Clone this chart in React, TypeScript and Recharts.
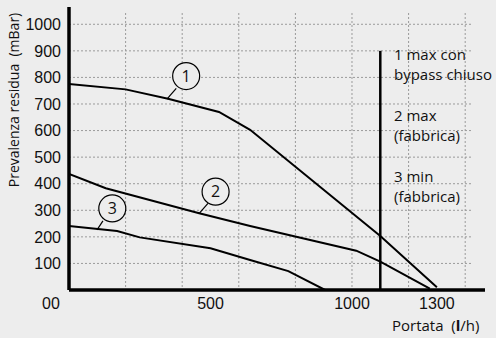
import React from "react";
import {
  LineChart,
  Line,
  XAxis,
  YAxis,
  CartesianGrid,
  ReferenceLine,
  ReferenceDot,
} from "recharts";

// curve 1: max con bypass chiuso
const curve1 = [
  { x: 0, y: 775 },
  { x: 200, y: 755 },
  { x: 350, y: 720 },
  { x: 530, y: 670 },
  { x: 640, y: 603 },
  { x: 1100, y: 203 },
  { x: 1300, y: 10 },
];

// curve 2: max (fabbrica)
const curve2 = [
  { x: 0, y: 437 },
  { x: 130, y: 383 },
  { x: 460, y: 289 },
  { x: 640, y: 241 },
  { x: 1015, y: 148 },
  { x: 1100, y: 107 },
  { x: 1275, y: 5 },
];

// curve 3: min (fabbrica)
const curve3 = [
  { x: 0, y: 241 },
  { x: 170, y: 222 },
  { x: 250, y: 198 },
  { x: 500, y: 157 },
  { x: 640, y: 113 },
  { x: 775, y: 71 },
  { x: 905, y: 0 },
];

const xTicks = [0, 500, 1000, 1300];
const yTicks = [100, 200, 300, 400, 500, 600, 700, 800, 900, 1000];
const xGrid = [100, 200, 300, 400, 500, 600, 700, 800, 900, 1000, 1100, 1200, 1300, 1400];
const bypassLimit = 1100;

// numbered callouts: circle centre and leader to the curve
const callouts = [
  { n: "1", cx: 414, cy: 805, from: { x: 379, y: 759 }, to: { x: 346, y: 718 } },
  { n: "2", cx: 518, cy: 370, from: { x: 491, y: 326 }, to: { x: 461, y: 289 } },
  { n: "3", cx: 153, cy: 307, from: { x: 120, y: 260 }, to: { x: 99, y: 226 } },
];

const notes = [
  ["1 max con", "bypass chiuso"],
  ["2 max", "(fabbrica)"],
  ["3 min", "(fabbrica)"],
];

const BG = "#ededed";
const TICK_FONT = "'Liberation Sans', Arial, sans-serif";
const TEXT_FONT = "'Open Sans', 'Noto Sans', sans-serif";

const XTick = (props: any) => {
  const { x, y, payload } = props;
  const v = payload.value;
  return (
    <text
      x={v === 0 ? x - 18 : x}
      y={y}
      dy="0.71em"
      textAnchor="middle"
      fontFamily={TICK_FONT}
      fontSize={16}
      fill="#111"
    >
      {v === 0 ? "00" : v}
    </text>
  );
};

export default function App() {
  return (
    <div
      style={{
        position: "absolute",
        left: 0,
        top: 0,
        width: 496,
        height: 338,
        background: BG,
      }}
    >
      <LineChart
        width={496}
        height={338}
        margin={{ top: 7, right: 11, left: 0, bottom: 0 }}
      >
        <CartesianGrid
          stroke="#9a9a9a"
          strokeDasharray="2 2"
          verticalValues={xGrid}
          horizontalValues={yTicks}
          x={69}
          y={13}
          width={403}
          height={277}
        />
        <XAxis
          type="number"
          dataKey="x"
          domain={[0, 1470]}
          ticks={xTicks}
          tick={<XTick />}
          tickLine={false}
          axisLine={{ stroke: "#000", strokeWidth: 3.5 }}
          height={48}
          allowDataOverflow
        />
        <YAxis
          type="number"
          dataKey="y"
          domain={[0, 1065]}
          ticks={yTicks}
          tickLine={false}
          axisLine={{ stroke: "#000", strokeWidth: 3.5 }}
          tick={{ fontFamily: TICK_FONT, fontSize: 16, fill: "#111" }}
          width={69}
          allowDataOverflow
        />
        <ReferenceLine
          segment={[
            { x: bypassLimit, y: 0 },
            { x: bypassLimit, y: 900 },
          ]}
          stroke="#000"
          strokeWidth={2.5}
        />
        {[curve1, curve2, curve3].map((d, i) => (
          <Line
            key={i}
            data={d}
            dataKey="y"
            type="linear"
            stroke="#000"
            strokeWidth={2}
            dot={false}
            activeDot={false}
            isAnimationActive={false}
          />
        ))}
        {callouts.map((c) => (
          <ReferenceLine
            key={"l" + c.n}
            segment={[c.from, c.to]}
            stroke="#000"
            strokeWidth={1.2}
          />
        ))}
        {callouts.map((c) => (
          <ReferenceDot
            key={"d" + c.n}
            x={c.cx}
            y={c.cy}
            r={13.5}
            fill={BG}
            stroke="#000"
            strokeWidth={1.2}
            label={{
              value: c.n,
              position: "center",
              fontFamily: TEXT_FONT,
              fontSize: 16,
              fill: "#111",
            }}
          />
        ))}
      </LineChart>
      <svg
        width={496}
        height={338}
        style={{ position: "absolute", left: 0, top: 0, pointerEvents: "none" }}
      >
        <text
          transform="translate(19 100) rotate(-90)"
          textAnchor="middle"
          fontFamily={TEXT_FONT}
          fontSize={14}
          fill="#111"
          style={{ whiteSpace: "pre" }}
        >
          {"Prevalenza residua  (mBar)"}
        </text>
        <text
          x={392}
          y={331}
          fontFamily={TEXT_FONT}
          fontSize={15}
          fill="#111"
          style={{ whiteSpace: "pre" }}
        >
          {"Portata  ("}
          <tspan fontWeight="bold">l</tspan>
          {"/h)"}
        </text>
        {notes.map((lines, i) => (
          <text
            key={i}
            x={394}
            y={60 + i * 61}
            fontFamily={TEXT_FONT}
            fontSize={15}
            fill="#111"
          >
            <tspan x={394}>{lines[0]}</tspan>
            <tspan x={394} dy={20}>
              {lines[1]}
            </tspan>
          </text>
        ))}
      </svg>
    </div>
  );
}
